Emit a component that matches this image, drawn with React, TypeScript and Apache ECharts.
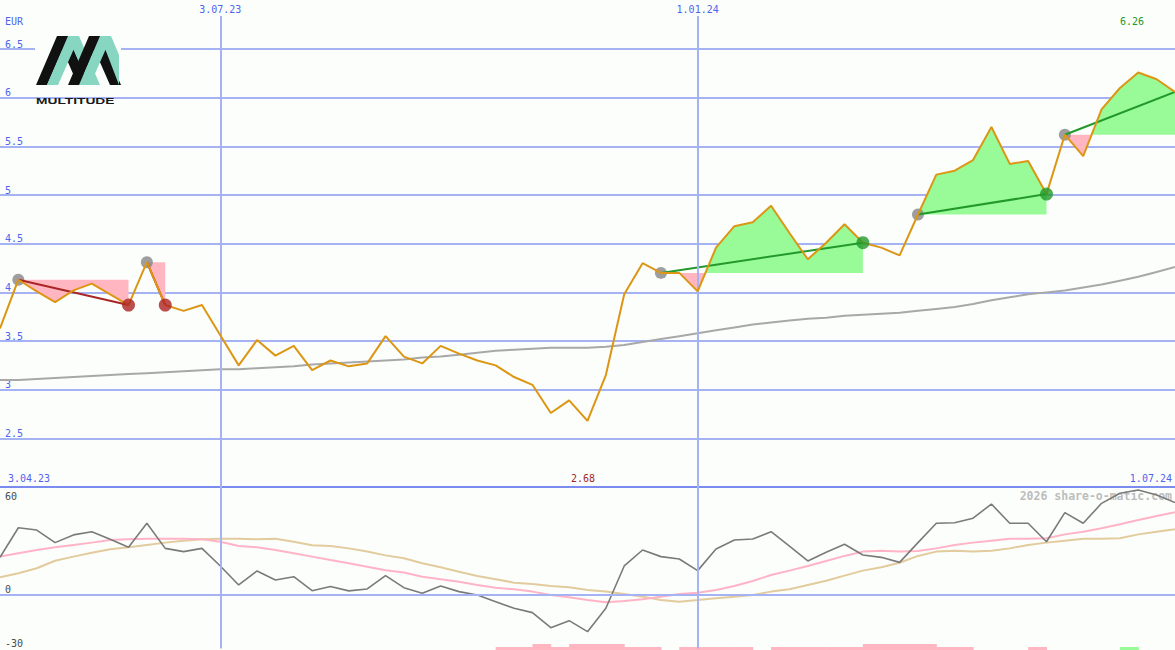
import React, { useEffect, useRef } from "react";
import * as echarts from "echarts";

// ---------- data ----------
const priceValues = [
  3.63, 4.13, 4.01, 3.9, 4.02, 4.09, 3.98, 3.87, 4.31, 3.87,
  3.81, 3.87, 3.56, 3.25, 3.51, 3.35, 3.45, 3.2, 3.3, 3.24,
  3.27, 3.55, 3.34, 3.27, 3.45, 3.37, 3.3, 3.25, 3.13, 3.05,
  2.76, 2.89, 2.68, 3.15, 3.98, 4.3, 4.2, 4.2, 4.01, 4.46,
  4.68, 4.72, 4.89, 4.61, 4.34, 4.51, 4.7, 4.51, 4.46, 4.38,
  4.8, 5.21, 5.25, 5.36, 5.7, 5.32, 5.35, 5.01, 5.62, 5.4,
  5.88, 6.1, 6.26, 6.19, 6.06,
];

const maValues = [
  3.1, 3.1, 3.11, 3.12, 3.13, 3.14, 3.15, 3.16, 3.17, 3.18,
  3.19, 3.2, 3.21, 3.21, 3.22, 3.23, 3.24, 3.26, 3.27, 3.28,
  3.29, 3.3, 3.31, 3.33, 3.34, 3.36, 3.38, 3.4, 3.41, 3.42,
  3.43, 3.43, 3.43, 3.44, 3.46, 3.49, 3.52, 3.55, 3.58, 3.61,
  3.64, 3.67, 3.69, 3.71, 3.73, 3.74, 3.76, 3.77, 3.78, 3.79,
  3.81, 3.83, 3.85, 3.88, 3.92, 3.95, 3.98, 4.0, 4.02, 4.05,
  4.08, 4.12, 4.16, 4.21, 4.26,
];

const momentumValues = [
  20.8, 37.3, 36.0, 29.0, 33.3, 35.1, 30.9, 26.4, 39.8, 25.8,
  24.0, 25.8, 16.0, 5.4, 13.2, 8.2, 10.0, 2.2, 4.5, 2.1,
  3.2, 10.6, 3.9, 0.8, 4.8, 1.7, -0.2, -3.9, -7.6, -10.0,
  -18.4, -14.5, -20.6, -7.6, 16.0, 24.9, 21.2, 19.9, 13.4, 25.5,
  30.5, 31.0, 35.1, 27.0, 18.8, 23.6, 28.1, 22.1, 20.8, 18.0,
  29.0, 39.8, 40.1, 42.6, 50.5, 39.8, 39.8, 29.5, 45.7, 39.8,
  50.9, 56.5, 58.3, 55.5, 51.3,
];

const pinkSignalValues = [
  21.2, 23.1, 24.9, 26.4, 27.7, 29.0, 30.5, 30.9, 31.2, 31.2,
  31.2, 30.9, 29.5, 27.1, 26.4, 24.9, 23.1, 21.2, 19.3, 17.5,
  15.6, 13.6, 12.3, 10.0, 8.6, 7.2, 5.4, 3.9, 3.0, 1.7,
  -0.2, -1.5, -3.0, -4.2, -3.5, -2.6, -1.1, 0.4, 1.1, 2.6,
  4.8, 7.6, 11.0, 13.4, 16.0, 18.8, 21.6, 24.0, 24.5, 24.0,
  24.3, 25.8, 27.7, 29.0, 30.1, 31.2, 31.2, 31.4, 33.6, 35.1,
  37.0, 39.2, 41.6, 43.8, 45.9,
];

const tanSignalValues = [
  9.7, 11.9, 14.7, 18.9, 21.2, 23.4, 25.3, 26.4, 27.7, 29.0,
  30.1, 30.9, 31.2, 31.2, 30.9, 31.2, 29.5, 27.5, 27.1, 25.8,
  24.0, 21.9, 20.3, 17.5, 15.3, 12.8, 10.4, 8.6, 6.7, 6.0,
  4.8, 4.1, 2.6, 1.7, 0.4, -1.1, -3.0, -3.9, -3.0, -2.0,
  -1.1, -0.2, 1.7, 3.0, 5.4, 7.8, 10.6, 13.4, 15.3, 17.8,
  21.6, 24.0, 24.5, 24.0, 24.5, 25.8, 27.7, 29.0, 30.1, 31.2,
  31.2, 31.4, 33.6, 35.1, 36.4,
];

// one value per week interval [i, i+1]; sign = colour, size = bar height
const signalBars = [
  0, 0, 0, 0, 0, 0, 0, 0, 0, 0,
  0, 0, 0, 0, 0, 0, 0, 0, 0, 0,
  0, 0, 0, 0, 0, 0, 0, -1, -1, -2,
  -1, -2, -2, -2, -1, -1, 0, -1, -1, -1,
  -1, 0, -1, -1, -1, -1, -1, -2, -2, -2,
  -2, -1, -1, 0, 0, 0, -1, 0, 0, 0,
  0, 1, 0, 0,
];

const tradeStarts = [1, 8, 36, 50, 58];
const tradeEnds = [7, 9, 47, 57, 64];
const tradeClosed = [true, true, true, true, false];

const dateLinePositions = [12, 38];
const dateLineLabels = ["3.07.23", "1.01.24"];
const rangeLabels = ["3.04.23", "1.07.24"];
const extremeLabels = ["6.26", "2.68"];
const currencyLabel = "EUR";
const watermarkText = "2026 share-o-matic.com";
const logoText = "MULTITUDE";

// ---------- styles ----------
const GRID_COLOR = "#a5b2f3";
const SEP_COLOR = "#7b8bef";
const AXIS_BLUE = "#5064ee";
const MONO = "DejaVu Sans Mono";
const GREEN_FILL = "#98fb98";
const PINK_FILL = "#ffb6c1";
const WIN = "#22992a";
const LOSS = "#a82626";
const BG = "#fcfefc";

function buildPieces(s: number, e: number, L: number) {
  const pieces: { sign: number; pts: number[][] }[] = [];
  let pts: number[][] = [
    [s, L],
    [s, priceValues[s]],
  ];
  let sign = 0;
  for (let j = s + 1; j <= e; j++) {
    const d0 = priceValues[j - 1] - L;
    const d1 = priceValues[j] - L;
    const sg = d1 > 0 ? 1 : d1 < 0 ? -1 : 0;
    if (sg !== 0 && sign !== 0 && sg !== sign) {
      const xc = d0 === 0 ? j - 1 : j - 1 + d0 / (d0 - d1);
      pts.push([xc, L]);
      pieces.push({ sign, pts });
      pts = [[xc, L]];
    }
    if (sg !== 0) sign = sg;
    pts.push([j, priceValues[j]]);
  }
  pts.push([e, L]);
  pieces.push({ sign, pts });
  return pieces;
}

const LOGO_TOP = 36;
const LOGO_BOTTOM = 85;
function chevron(x0: number, clipRight: boolean) {
  const h = LOGO_BOTTOM - LOGO_TOP;
  const mid = LOGO_TOP + h * 0.28;
  const pts = [
    [x0, LOGO_BOTTOM],
    [x0 + 21, LOGO_TOP],
    [x0 + 32, LOGO_TOP],
  ];
  if (!clipRight) {
    pts.push([x0 + 53, LOGO_BOTTOM]);
    pts.push([x0 + 42, LOGO_BOTTOM]);
  } else {
    pts.push([119, LOGO_TOP + ((119 - x0 - 32) / 21) * h]);
    pts.push([119, LOGO_BOTTOM]);
  }
  pts.push([x0 + 26.5, mid]);
  pts.push([x0 + 11, LOGO_BOTTOM]);
  return pts;
}

export default function App() {
  const ref = useRef<HTMLDivElement>(null);

  useEffect(() => {
    document.body.style.margin = "0";
    const chart = echarts.init(ref.current!, null, { renderer: "svg" });

    const xy = (arr: number[]) => arr.map((v, i) => [i, v]);

    const tradeLineSeries = tradeStarts.map((s, k) => {
      const e = tradeEnds[k];
      const win = priceValues[e] >= priceValues[s];
      return {
        type: "line",
        xAxisIndex: 0,
        yAxisIndex: 0,
        data: [
          [s, priceValues[s]],
          [e, priceValues[e]],
        ],
        symbol: "none",
        silent: true,
        z: 4,
        lineStyle: { color: win ? WIN : LOSS, width: 2 },
      };
    });

    const exitWin: number[][] = [];
    const exitLoss: number[][] = [];
    tradeStarts.forEach((s, k) => {
      if (!tradeClosed[k]) return;
      const e = tradeEnds[k];
      (priceValues[e] >= priceValues[s] ? exitWin : exitLoss).push([e, priceValues[e]]);
    });

    const txt = (text: string, x: number, y: number, fill: string, align: string, font = `10px '${MONO}'`, z = 60) => ({
      type: "text",
      z,
      x,
      y,
      silent: true,
      style: { text, fill, font, textAlign: align, textVerticalAlign: "middle" },
    });

    const option: any = {
      animation: false,
      backgroundColor: BG,
      grid: [
        { left: 0, right: 0, top: 16, height: 471, outerBoundsMode: "none", containLabel: false },
        { left: 0, right: 0, top: 487, height: 161.5, outerBoundsMode: "none", containLabel: false },
        { left: 0, right: 0, top: 638, height: 12, outerBoundsMode: "none", containLabel: false },
      ],
      xAxis: [
        {
          type: "value",
          gridIndex: 0,
          min: 0,
          max: 64,
          axisLine: { show: true, onZero: false, lineStyle: { color: SEP_COLOR, width: 2 } },
          axisTick: { show: false },
          axisLabel: { show: false },
          splitLine: { show: false },
        },
        { type: "value", gridIndex: 1, min: 0, max: 64, show: false, splitLine: { show: false } },
        { type: "value", gridIndex: 2, min: 0, max: 64, show: false, splitLine: { show: false } },
      ],
      yAxis: [
        {
          type: "value",
          gridIndex: 0,
          min: 2,
          max: 6.84,
          interval: 0.5,
          axisLine: { show: false },
          axisTick: { show: false },
          splitLine: {
            show: true,
            showMinLine: false,
            showMaxLine: false,
            lineStyle: { color: GRID_COLOR, width: 2 },
          },
          axisLabel: {
            inside: true,
            margin: 5,
            showMinLabel: false,
            showMaxLabel: false,
            verticalAlign: "bottom",
            color: AXIS_BLUE,
            fontFamily: MONO,
            fontSize: 10,
          },
        },
        {
          type: "value",
          gridIndex: 1,
          min: -30,
          max: 60,
          interval: 30,
          axisLine: { show: false },
          axisTick: { show: false },
          splitLine: { show: false },
          axisLabel: {
            inside: true,
            margin: 5,
            verticalAlign: "bottom",
            color: "#4a4a4a",
            fontFamily: MONO,
            fontSize: 10,
            formatter: (v: number) => (v === 0 || v === -30 ? String(v) : ""),
          },
        },
        { type: "value", gridIndex: 2, min: 0, max: 4, show: false, splitLine: { show: false } },
      ],
      graphic: [
        {
          type: "rect",
          z: 50,
          silent: true,
          shape: { x: 35, y: 33, width: 86, height: 60 },
          style: { fill: BG },
        },
        ...[
          { x0: 36, color: "#111111", clip: false },
          { x0: 47, color: "#86d6c2", clip: false },
          { x0: 68, color: "#111111", clip: false },
          { x0: 79, color: "#86d6c2", clip: true },
        ].map((c) => ({
          type: "polygon",
          z: 51,
          silent: true,
          shape: { points: chevron(c.x0, c.clip) },
          style: { fill: c.color },
        })),
        {
          type: "text",
          z: 51,
          x: 36,
          y: 101,
          scaleX: 1.62,
          silent: true,
          style: {
            text: logoText,
            fill: "#1a1a1a",
            font: "bold 8.5px 'Liberation Sans'",
            textAlign: "left",
            textVerticalAlign: "middle",
          },
        },
        txt(currencyLabel, 5, 21, AXIS_BLUE, "left"),
        txt(extremeLabels[0], 1132, 21, WIN, "center"),
        txt(extremeLabels[1], 583, 478, LOSS, "center"),
        txt(rangeLabels[0], 8, 478, AXIS_BLUE, "left"),
        txt(rangeLabels[1], 1172, 478, AXIS_BLUE, "right"),
        txt("60", 5, 496, "#4a4a4a", "left"),
        txt(watermarkText, 1172, 496, "#bdbdbd", "right", `bold 11.5px '${MONO}'`, 0),
      ],
      series: [
        {
          type: "line",
          xAxisIndex: 0,
          yAxisIndex: 0,
          data: xy(maValues),
          symbol: "none",
          silent: true,
          z: 1,
          lineStyle: { color: "#a8a8a8", width: 2 },
          markLine: {
            silent: true,
            symbol: ["none", "none"],
            lineStyle: { color: GRID_COLOR, width: 2, type: "solid" },
            label: {
              show: true,
              position: "end",
              distance: 2,
              color: AXIS_BLUE,
              fontFamily: MONO,
              fontSize: 10,
            },
            data: dateLinePositions.map((p, k) => ({
              xAxis: p,
              label: { formatter: dateLineLabels[k] },
            })),
          },
        },
        {
          type: "custom",
          xAxisIndex: 0,
          yAxisIndex: 0,
          z: 2,
          silent: true,
          clip: true,
          data: tradeStarts.map((s) => [s, priceValues[s]]),
          renderItem: (params: any, api: any) => {
            const k = params.dataIndex;
            const s = tradeStarts[k];
            const e = tradeEnds[k];
            const pieces = buildPieces(s, e, priceValues[s]);
            return {
              type: "group",
              children: pieces.map((p) => ({
                type: "polygon",
                shape: { points: p.pts.map((pt) => api.coord(pt)) },
                style: { fill: p.sign > 0 ? GREEN_FILL : PINK_FILL, stroke: null },
              })),
            };
          },
        },
        {
          type: "scatter",
          xAxisIndex: 0,
          yAxisIndex: 0,
          z: 3,
          silent: true,
          symbolSize: 12,
          itemStyle: { color: "#868686" },
          data: tradeStarts.map((s) => [s, priceValues[s]]),
        },
        ...tradeLineSeries,
        {
          type: "line",
          xAxisIndex: 0,
          yAxisIndex: 0,
          data: xy(priceValues),
          symbol: "none",
          silent: true,
          z: 5,
          lineStyle: { color: "#dc9614", width: 2 },
        },
        {
          type: "scatter",
          xAxisIndex: 0,
          yAxisIndex: 0,
          z: 6,
          silent: true,
          symbolSize: 13,
          itemStyle: { color: WIN },
          data: exitWin,
        },
        {
          type: "scatter",
          xAxisIndex: 0,
          yAxisIndex: 0,
          z: 6,
          silent: true,
          symbolSize: 13,
          itemStyle: { color: "#ad2222" },
          data: exitLoss,
        },
        {
          type: "line",
          xAxisIndex: 1,
          yAxisIndex: 1,
          data: xy(tanSignalValues),
          symbol: "none",
          silent: true,
          z: 2,
          lineStyle: { color: "#e2cb9c", width: 2 },
          markLine: {
            silent: true,
            symbol: ["none", "none"],
            label: { show: false },
            lineStyle: { color: GRID_COLOR, width: 2, type: "solid" },
            data: [...dateLinePositions.map((p) => ({ xAxis: p })), { yAxis: 0 }],
          },
        },
        {
          type: "line",
          xAxisIndex: 1,
          yAxisIndex: 1,
          data: xy(pinkSignalValues),
          symbol: "none",
          silent: true,
          z: 3,
          lineStyle: { color: "#ffb3c6", width: 2 },
        },
        {
          type: "line",
          xAxisIndex: 1,
          yAxisIndex: 1,
          data: xy(momentumValues),
          symbol: "none",
          silent: true,
          z: 4,
          lineStyle: { color: "#7a7a7a", width: 1.6 },
        },
        {
          type: "custom",
          xAxisIndex: 2,
          yAxisIndex: 2,
          z: 3,
          silent: true,
          clip: false,
          data: signalBars.map((v, i) => [i, v]).filter((d) => d[1] !== 0),
          renderItem: (params: any, api: any) => {
            const i = api.value(0);
            const v = api.value(1);
            const p0 = api.coord([i, 0]);
            const p1 = api.coord([i + 1, Math.abs(v)]);
            return {
              type: "rect",
              shape: { x: p0[0], y: p1[1], width: p1[0] - p0[0] + 0.5, height: p0[1] - p1[1] },
              style: { fill: v > 0 ? GREEN_FILL : PINK_FILL },
            };
          },
        },
      ],
    };

    chart.setOption(option);
    return () => chart.dispose();
  }, []);

  return <div ref={ref} style={{ width: 1175, height: 650 }} />;
}
